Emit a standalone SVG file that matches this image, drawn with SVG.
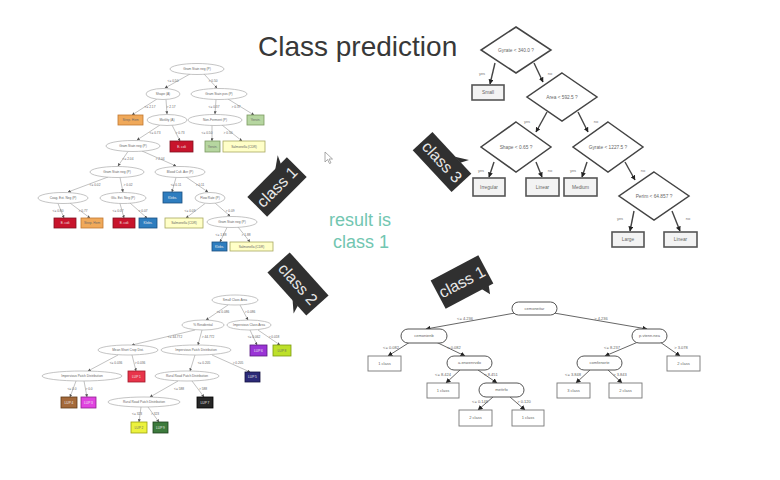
<svg xmlns="http://www.w3.org/2000/svg" width="780" height="480" viewBox="0 0 780 480">
<defs>
<marker id="ah" viewBox="0 0 6 6" refX="5.5" refY="3" markerWidth="3" markerHeight="3" orient="auto" markerUnits="userSpaceOnUse"><path d="M0,0 L6,3 L0,6 z" fill="#555"/></marker>
<marker id="ah2" viewBox="0 0 6 6" refX="5.5" refY="3" markerWidth="5" markerHeight="5" orient="auto" markerUnits="userSpaceOnUse"><path d="M0,0 L6,3 L0,6 z" fill="#222"/></marker>
<style>
text{font-family:"Liberation Sans","DejaVu Sans",sans-serif}
.tt{font-size:3.2px;fill:#666;text-anchor:middle}
.tw{fill:#eee}
.el{fill:#fff;stroke:#aaa;stroke-width:0.7}
.lf{stroke-width:0.8}
.c1 line{stroke:#999;stroke-width:0.6;marker-end:url(#ah)}
.c3 line{stroke:#444;stroke-width:1.4;marker-end:url(#ah2)}
.c4 line{stroke:#555;stroke-width:0.9;marker-end:url(#ah2)}
.dm{fill:#fff;stroke:#444;stroke-width:1.5}
.bx{fill:#f3f3f3;stroke:#555;stroke-width:1.6}
.dt{font-size:4.8px;fill:#666;text-anchor:middle}
.lb{font-size:4px;fill:#777;text-anchor:middle}
.rr{fill:#fff;stroke:#555;stroke-width:1}
.sb{fill:#fff;stroke:#777;stroke-width:0.9}
.bt{font-size:4px;fill:#666;text-anchor:middle}
.co{fill:#303030}
.ct{font-size:16px;fill:#e8e8e8;text-anchor:middle}
.res{font-size:18px;fill:#72c6b1;text-anchor:middle}
</style>
</defs>
<rect width="780" height="480" fill="#fff"/>
<text x="258" y="56" font-size="28" fill="#383838">Class prediction</text>
<g id="result"><text class="res" x="360" y="226">result is</text><text class="res" x="361" y="248">class 1</text></g>
<path id="cursor" d="M325,152 L325,162 L327.5,159.5 L329.5,163.5 L331,162.8 L329,159 L332.5,159 Z" fill="#fff" stroke="#888" stroke-width="0.7"/>

<!-- Top-left tree connectors -->
<g id="tl-connectors" class="c1">
<line x1="190" y1="74" x2="165" y2="88"/><line x1="204" y1="74" x2="217" y2="88"/>
<line x1="157" y1="99" x2="132" y2="115"/><line x1="166" y1="99.5" x2="167" y2="114"/>
<line x1="216" y1="99.5" x2="215" y2="114"/><line x1="228" y1="99" x2="254" y2="115"/>
<line x1="160" y1="125" x2="137" y2="140"/><line x1="172" y1="125" x2="180" y2="141"/>
<line x1="212" y1="125.5" x2="212" y2="141"/><line x1="222" y1="125" x2="242" y2="141"/>
<line x1="128" y1="151.5" x2="118" y2="166"/><line x1="142" y1="151" x2="176" y2="166"/>
<line x1="108" y1="177" x2="68" y2="192"/><line x1="120" y1="177.5" x2="123" y2="192"/>
<line x1="176" y1="177.5" x2="172" y2="192"/><line x1="186" y1="177" x2="208" y2="192"/>
<line x1="58" y1="203.5" x2="64" y2="218"/><line x1="70" y1="203" x2="90" y2="218"/>
<line x1="120" y1="203.5" x2="124" y2="218"/><line x1="130" y1="203" x2="147" y2="218"/>
<line x1="205" y1="203.5" x2="186" y2="218"/><line x1="215" y1="203" x2="230" y2="216"/>
<line x1="227" y1="227.5" x2="220" y2="242"/><line x1="238" y1="227" x2="250" y2="242"/>
<text class="tt" x="173" y="82">&lt;= 0.50</text><text class="tt" x="213" y="82">&gt; 0.50</text>
<text class="tt" x="150" y="108">&lt;= 2.17</text><text class="tt" x="171" y="108">&gt; 2.17</text>
<text class="tt" x="214" y="108">&lt;= 0.37</text><text class="tt" x="236" y="108">&gt; 0.37</text>
<text class="tt" x="155" y="134">&lt;= 0.73</text><text class="tt" x="180" y="134">&gt; 0.73</text>
<text class="tt" x="207" y="134">&lt;= 0.50</text><text class="tt" x="228" y="134">&gt; 0.50</text>
<text class="tt" x="128" y="160">&lt;= 2.04</text><text class="tt" x="160" y="160">&gt; 2.04</text>
<text class="tt" x="95" y="186">&lt;= 0.02</text><text class="tt" x="128" y="186">&gt; 0.02</text>
<text class="tt" x="176" y="186">&lt;= 0.11</text><text class="tt" x="200" y="186">&gt; 0.11</text>
<text class="tt" x="58" y="212">&lt;= 0.80</text><text class="tt" x="83" y="212">&gt; 0.77</text>
<text class="tt" x="118" y="212">&lt;= 0.07</text><text class="tt" x="143" y="212">&gt; 0.07</text>
<text class="tt" x="190" y="212">&lt;= 0.09</text><text class="tt" x="230" y="212">&gt; 0.09</text>
<text class="tt" x="221" y="236">&lt;= 1.88</text><text class="tt" x="246" y="236">&gt; 1.88</text>
</g>
<!-- Top-left tree nodes -->
<g id="tl-n1"><ellipse class="el" cx="197" cy="69" rx="27" ry="5.5"/><text class="tt" x="197" y="70.2">Gram Stain neg (P)</text></g>
<g id="tl-n2"><ellipse class="el" cx="163" cy="94" rx="17" ry="5.5"/><text class="tt" x="163" y="95.2">Shape (A)</text></g>
<g id="tl-n3"><ellipse class="el" cx="219" cy="94" rx="28" ry="5.5"/><text class="tt" x="219" y="95.2">Gram Stain pos (P)</text></g>
<g id="tl-l1"><rect class="lf" x="118" y="115" width="25" height="10" fill="#f0a95a" stroke="#c07830"/><text class="tt" x="130.5" y="121.2">Strep. Hem</text></g>
<g id="tl-n4"><ellipse class="el" cx="167" cy="120" rx="20" ry="5.5"/><text class="tt" x="167" y="121.2">Motility (A)</text></g>
<g id="tl-n5"><ellipse class="el" cx="215" cy="120" rx="27" ry="5.5"/><text class="tt" x="215" y="121.2">Non-Ferment (P)</text></g>
<g id="tl-l2"><rect class="lf" x="247" y="115" width="17" height="10" fill="#b6d6a0" stroke="#7a9a60"/><text class="tt" x="255.5" y="121.2">Yersin.</text></g>
<g id="tl-n6"><ellipse class="el" cx="133" cy="146" rx="27" ry="5.5"/><text class="tt" x="133" y="147.2">Gram Stain neg (P)</text></g>
<g id="tl-l3"><rect class="lf" x="170" y="141" width="23" height="11" fill="#c8142c" stroke="#801020"/><text class="tt tw" x="181.5" y="147.5">E. coli</text></g>
<g id="tl-l4"><rect class="lf" x="205" y="141" width="15" height="11" fill="#b6d6a0" stroke="#7a9a60"/><text class="tt" x="212.5" y="147.5">Yersin.</text></g>
<g id="tl-l5"><rect class="lf" x="223" y="141" width="42" height="11" fill="#ffffc8" stroke="#a8a860"/><text class="tt" x="244" y="147.5">Salmonella (CDR)</text></g>
<g id="tl-n7"><ellipse class="el" cx="117" cy="172" rx="27" ry="5.5"/><text class="tt" x="117" y="173.2">Gram Stain neg (P)</text></g>
<g id="tl-n8"><ellipse class="el" cx="180" cy="172" rx="25" ry="5.5"/><text class="tt" x="180" y="173.2">Blood Cult. Aer (P)</text></g>
<g id="tl-n9"><ellipse class="el" cx="63" cy="198" rx="25" ry="5.5"/><text class="tt" x="63" y="199.2">Coag. Ext. Neg (P)</text></g>
<g id="tl-n10"><ellipse class="el" cx="123" cy="198" rx="23" ry="5.5"/><text class="tt" x="123" y="199.2">Glu. Ext. Neg (P)</text></g>
<g id="tl-l6"><rect class="lf" x="163" y="192" width="19" height="11" fill="#2e7dbf" stroke="#1a4f80"/><text class="tt tw" x="172.5" y="198.5">Klebs.</text></g>
<g id="tl-n11"><ellipse class="el" cx="210" cy="198" rx="15" ry="5.5"/><text class="tt" x="210" y="199.2">Flow Rate (P)</text></g>
<g id="tl-l7"><rect class="lf" x="54" y="218" width="22" height="10" fill="#c8142c" stroke="#801020"/><text class="tt tw" x="65" y="224.2">E. coli</text></g>
<g id="tl-l8"><rect class="lf" x="81" y="218" width="22" height="10" fill="#f0a95a" stroke="#c07830"/><text class="tt" x="92" y="224.2">Strep. Hem</text></g>
<g id="tl-l9"><rect class="lf" x="113" y="218" width="22" height="10" fill="#c8142c" stroke="#801020"/><text class="tt tw" x="124" y="224.2">E. coli</text></g>
<g id="tl-l10"><rect class="lf" x="139" y="218" width="18" height="10" fill="#2e7dbf" stroke="#1a4f80"/><text class="tt tw" x="148" y="224.2">Klebs.</text></g>
<g id="tl-l11"><rect class="lf" x="165" y="218" width="38" height="10" fill="#ffffc8" stroke="#a8a860"/><text class="tt" x="184" y="224.2">Salmonella (CDR)</text></g>
<g id="tl-n12"><ellipse class="el" cx="232" cy="222" rx="25" ry="5.5"/><text class="tt" x="232" y="223.2">Gram Stain neg (P)</text></g>
<g id="tl-l12"><rect class="lf" x="212" y="242" width="15" height="9" fill="#2e7dbf" stroke="#1a4f80"/><text class="tt tw" x="219.5" y="247.7">Klebs.</text></g>
<g id="tl-l13"><rect class="lf" x="230" y="242" width="43" height="9" fill="#ffffc8" stroke="#a8a860"/><text class="tt" x="251.5" y="247.7">Salmonella (CDR)</text></g>

<!-- Bottom-left tree connectors -->
<g id="bl-connectors" class="c1">
<line x1="228" y1="305" x2="206" y2="320"/><line x1="240" y1="305" x2="248" y2="320"/>
<line x1="250" y1="330" x2="257" y2="345"/><line x1="258" y1="330" x2="280" y2="345"/>
<line x1="195" y1="330" x2="132" y2="345"/><line x1="202" y1="330" x2="198" y2="345"/>
<line x1="118" y1="355" x2="88" y2="371"/><line x1="132" y1="355" x2="136" y2="371"/>
<line x1="195" y1="355" x2="190" y2="371"/><line x1="212" y1="355" x2="250" y2="372"/>
<line x1="76" y1="381" x2="70" y2="397"/><line x1="84" y1="381" x2="87" y2="397"/>
<line x1="178" y1="381" x2="150" y2="397"/><line x1="192" y1="381" x2="204" y2="397"/>
<line x1="141" y1="407" x2="139" y2="422"/><line x1="148" y1="407" x2="159" y2="422"/>
<text class="tt" x="223" y="313">&lt;= 0.086</text><text class="tt" x="250" y="313">&gt; 0.086</text>
<text class="tt" x="254" y="338">&lt;= 0.062</text><text class="tt" x="274" y="338">&gt; 0.018</text>
<text class="tt" x="175" y="338">&lt;= 44.772</text><text class="tt" x="208" y="338">&gt; 44.772</text>
<text class="tt" x="116" y="364">&lt;= 0.036</text><text class="tt" x="140" y="364">&gt; 0.036</text>
<text class="tt" x="204" y="364">&lt;= 0.205</text><text class="tt" x="238" y="364">&gt; 0.205</text>
<text class="tt" x="72" y="390">&lt;= 0.0</text><text class="tt" x="89" y="390">&gt; 0.0</text>
<text class="tt" x="179" y="390">&lt;= 588</text><text class="tt" x="203" y="390">&gt; 588</text>
<text class="tt" x="137" y="415">&lt;= 323</text><text class="tt" x="155" y="415">&gt; 323</text>
</g>
<g id="bl-m1"><ellipse class="el" cx="235" cy="300" rx="23" ry="5"/><text class="tt" x="235" y="301.2">Small Class Area</text></g>
<g id="bl-m2"><ellipse class="el" cx="203" cy="325" rx="21" ry="5"/><text class="tt" x="203" y="326.2">% Residential</text></g>
<g id="bl-m3"><ellipse class="el" cx="249" cy="325" rx="22" ry="5"/><text class="tt" x="249" y="326.2">Impervious Class Area</text></g>
<g id="bl-k1"><rect class="lf" x="250" y="345" width="17" height="11" fill="#9a34d6" stroke="#5a1a80"/><text class="tt tw" x="258.5" y="351.5">LUP 6</text></g>
<g id="bl-k2"><rect class="lf" x="273" y="345" width="18" height="11" fill="#bde02a" stroke="#7a9a10"/><text class="tt" x="282" y="351.5">LUP 8</text></g>
<g id="bl-m4"><ellipse class="el" cx="128" cy="350" rx="30" ry="5"/><text class="tt" x="128" y="351.2">Mean Short Crop Dist.</text></g>
<g id="bl-m5"><ellipse class="el" cx="196" cy="350" rx="35" ry="5"/><text class="tt" x="196" y="351.2">Impervious Patch Distribution</text></g>
<g id="bl-m6"><ellipse class="el" cx="82" cy="376" rx="40" ry="5"/><text class="tt" x="82" y="377.2">Impervious Patch Distribution</text></g>
<g id="bl-k3"><rect class="lf" x="128" y="371" width="17" height="11" fill="#e8344a" stroke="#a01828"/><text class="tt tw" x="136.5" y="377.5">LUP 1</text></g>
<g id="bl-m7"><ellipse class="el" cx="187" cy="376" rx="32" ry="5"/><text class="tt" x="187" y="377.2">Rural Road Patch Distribution</text></g>
<g id="bl-k4"><rect class="lf" x="245" y="372" width="15" height="10" fill="#2c2a78" stroke="#141240"/><text class="tt tw" x="252.5" y="378.2">LUP 5</text></g>
<g id="bl-k5"><rect class="lf" x="61" y="397" width="16" height="11" fill="#a4693a" stroke="#603a18"/><text class="tt tw" x="69" y="403.5">LUP 4</text></g>
<g id="bl-k6"><rect class="lf" x="81" y="397" width="15" height="11" fill="#e044e0" stroke="#902090"/><text class="tt tw" x="88.5" y="403.5">LUP 3</text></g>
<g id="bl-m8"><ellipse class="el" cx="144" cy="402" rx="36" ry="5"/><text class="tt" x="144" y="403.2">Rural Road Patch Distribution</text></g>
<g id="bl-k7"><rect class="lf" x="197" y="397" width="16" height="11" fill="#262626" stroke="#000"/><text class="tt tw" x="205" y="403.5">LUP 7</text></g>
<g id="bl-k8"><rect class="lf" x="131" y="422" width="16" height="11" fill="#ecf23e" stroke="#9aa010"/><text class="tt" x="139" y="428.5">LUP 2</text></g>
<g id="bl-k9"><rect class="lf" x="153" y="422" width="15" height="11" fill="#3c7a3c" stroke="#1c401c"/><text class="tt tw" x="160.5" y="428.5">LUP 9</text></g>

<!-- Top-right tree connectors -->
<g id="tr-connectors" class="c3">
<line x1="495" y1="63" x2="490" y2="84"/><line x1="534" y1="63" x2="543" y2="82"/>
<line x1="547" y1="112" x2="536" y2="132"/><line x1="578" y1="112" x2="588" y2="132"/>
<line x1="494" y1="162" x2="489" y2="177"/><line x1="536" y1="162" x2="542" y2="177"/>
<line x1="587" y1="162" x2="582" y2="177"/><line x1="625" y1="162" x2="635" y2="180"/>
<line x1="634" y1="211" x2="630" y2="231"/><line x1="672" y1="211" x2="680" y2="231"/>
<text class="lb" x="482" y="75">yes</text><text class="lb" x="550" y="75">no</text>
<text class="lb" x="527" y="123">yes</text><text class="lb" x="596" y="123">no</text>
<text class="lb" x="481" y="172">yes</text><text class="lb" x="550" y="172">no</text>
<text class="lb" x="573" y="172">yes</text><text class="lb" x="643" y="172">no</text>
<text class="lb" x="620" y="220">yes</text><text class="lb" x="688" y="220">no</text>
</g>
<g id="tr-d1"><polygon class="dm" points="516,27 551,50 516,73 481,50"/><text class="dt" x="516" y="51.7">Gyrate &lt; 340.0 ?</text></g>
<g id="tr-small"><rect class="bx" x="472" y="85" width="32" height="15"/><text class="dt" x="488" y="94.3">Small</text></g>
<g id="tr-d2"><polygon class="dm" points="562,73 597,97 562,121 527,97"/><text class="dt" x="562" y="98.7">Area &lt; 592.5 ?</text></g>
<g id="tr-d3"><polygon class="dm" points="516,122 551,147 516,172 481,147"/><text class="dt" x="516" y="148.7">Shape &lt; 0.65 ?</text></g>
<g id="tr-d4"><polygon class="dm" points="608,122 643,147 608,172 573,147"/><text class="dt" x="608" y="148.7">Gyrate &lt; 1227.5 ?</text></g>
<g id="tr-irregular"><rect class="bx" x="473" y="178" width="32" height="18"/><text class="dt" x="489" y="188.7">Irregular</text></g>
<g id="tr-linear1"><rect class="bx" x="526" y="178" width="33" height="18"/><text class="dt" x="542.5" y="188.7">Linear</text></g>
<g id="tr-medium"><rect class="bx" x="564" y="178" width="33" height="18"/><text class="dt" x="580.5" y="188.7">Medium</text></g>
<g id="tr-d5"><polygon class="dm" points="654,172 689,196 654,220 619,196"/><text class="dt" x="654" y="197.7">Perim &lt; 64.857 ?</text></g>
<g id="tr-large"><rect class="bx" x="612" y="232" width="32" height="15"/><text class="dt" x="628" y="241.3">Large</text></g>
<g id="tr-linear2"><rect class="bx" x="664" y="232" width="33" height="15"/><text class="dt" x="680.5" y="241.3">Linear</text></g>

<!-- Bottom-right tree connectors -->
<g id="br-connectors" class="c4">
<line x1="515" y1="313" x2="426" y2="329"/><line x1="554" y1="313" x2="647" y2="329"/>
<line x1="410" y1="342" x2="388" y2="356"/><line x1="436" y1="342" x2="465" y2="356"/>
<line x1="460" y1="370" x2="446" y2="383"/><line x1="478" y1="370" x2="497" y2="383"/>
<line x1="493" y1="397" x2="478" y2="410"/><line x1="510" y1="397" x2="525" y2="410"/>
<line x1="638" y1="342" x2="605" y2="356"/><line x1="660" y1="342" x2="680" y2="356"/>
<line x1="590" y1="370" x2="576" y2="383"/><line x1="608" y1="370" x2="622" y2="383"/>
<text class="bt" x="465" y="320">&lt;= 4.236</text><text class="bt" x="601" y="320">&gt; 4.236</text>
<text class="bt" x="391" y="349">&lt;= 0.082</text><text class="bt" x="454" y="349">&gt; 0.082</text>
<text class="bt" x="612" y="349">&lt;= 8.237</text><text class="bt" x="681" y="349">&gt; 3.078</text>
<text class="bt" x="443" y="376">&lt;= 8.424</text><text class="bt" x="491" y="376">&gt; 8.451</text>
<text class="bt" x="573" y="376">&lt;= 3.848</text><text class="bt" x="620" y="376">&gt; 3.843</text>
<text class="bt" x="480" y="403">&lt;= 0.148</text><text class="bt" x="524" y="403">&gt; 0.120</text>
</g>
<g id="br-r1"><rect class="rr" x="512" y="302" width="45" height="13" rx="6.5"/><text class="bt" x="534.5" y="309.9">cemoneitar</text></g>
<g id="br-r2"><rect class="rr" x="401" y="329" width="46" height="14" rx="7"/><text class="bt" x="424" y="337.4">cemonienb</text></g>
<g id="br-r3"><rect class="rr" x="632" y="329" width="35" height="14" rx="7"/><text class="bt" x="649.5" y="337.4">p.vtenn.nea</text></g>
<g id="br-b1"><rect class="sb" x="368" y="356" width="33" height="15"/><text class="bt" x="384.5" y="364.9">1 class</text></g>
<g id="br-r4"><rect class="rr" x="447" y="356" width="45" height="14" rx="7"/><text class="bt" x="469.5" y="364.4">a.enwenrvdo</text></g>
<g id="br-r5"><rect class="rr" x="577" y="356" width="45" height="14" rx="7"/><text class="bt" x="599.5" y="364.4">comfenorte</text></g>
<g id="br-b2"><rect class="sb" x="667" y="356" width="33" height="15"/><text class="bt" x="683.5" y="364.9">2 class</text></g>
<g id="br-b3"><rect class="sb" x="427" y="383" width="32" height="15"/><text class="bt" x="443" y="391.9">1 class</text></g>
<g id="br-r6"><rect class="rr" x="479" y="383" width="45" height="14" rx="7"/><text class="bt" x="501.5" y="391.4">mettrfo</text></g>
<g id="br-b4"><rect class="sb" x="557" y="383" width="33" height="15"/><text class="bt" x="573.5" y="391.9">3 class</text></g>
<g id="br-b5"><rect class="sb" x="609" y="383" width="33" height="15"/><text class="bt" x="625.5" y="391.9">2 class</text></g>
<g id="br-b6"><rect class="sb" x="459" y="410" width="33" height="16"/><text class="bt" x="475.5" y="419.4">2 class</text></g>
<g id="br-b7"><rect class="sb" x="512" y="410" width="32" height="16"/><text class="bt" x="528" y="419.4">1 class</text></g>

<!-- Callouts -->
<g id="callout-class1-top" transform="translate(277,187) rotate(-45)"><rect class="co" x="-28" y="-14" width="56" height="28"/><polygon class="co" points="11,-13.5 19,-13.5 23,-22"/><text class="ct" x="0" y="5.5">class 1</text></g>
<g id="callout-class2" transform="translate(298,284) rotate(48)"><rect class="co" x="-29" y="-15" width="58" height="30"/><polygon class="co" points="8,14.5 16,14.5 19,23"/><text class="ct" x="0" y="5.5">class 2</text></g>
<g id="callout-class3" transform="translate(442,162) rotate(47)"><rect class="co" x="-28.5" y="-13.5" width="57" height="27"/><polygon class="co" points="5,-13 13,-13 17,-21"/><text class="ct" x="0" y="5.5">class 3</text></g>
<g id="callout-class1-bottom" transform="translate(462,282) rotate(-28)"><rect class="co" x="-27" y="-16" width="54" height="32"/><polygon class="co" points="14,15.5 22,15.5 19,24"/><text class="ct" x="0" y="5.5">class 1</text></g>
</svg>
